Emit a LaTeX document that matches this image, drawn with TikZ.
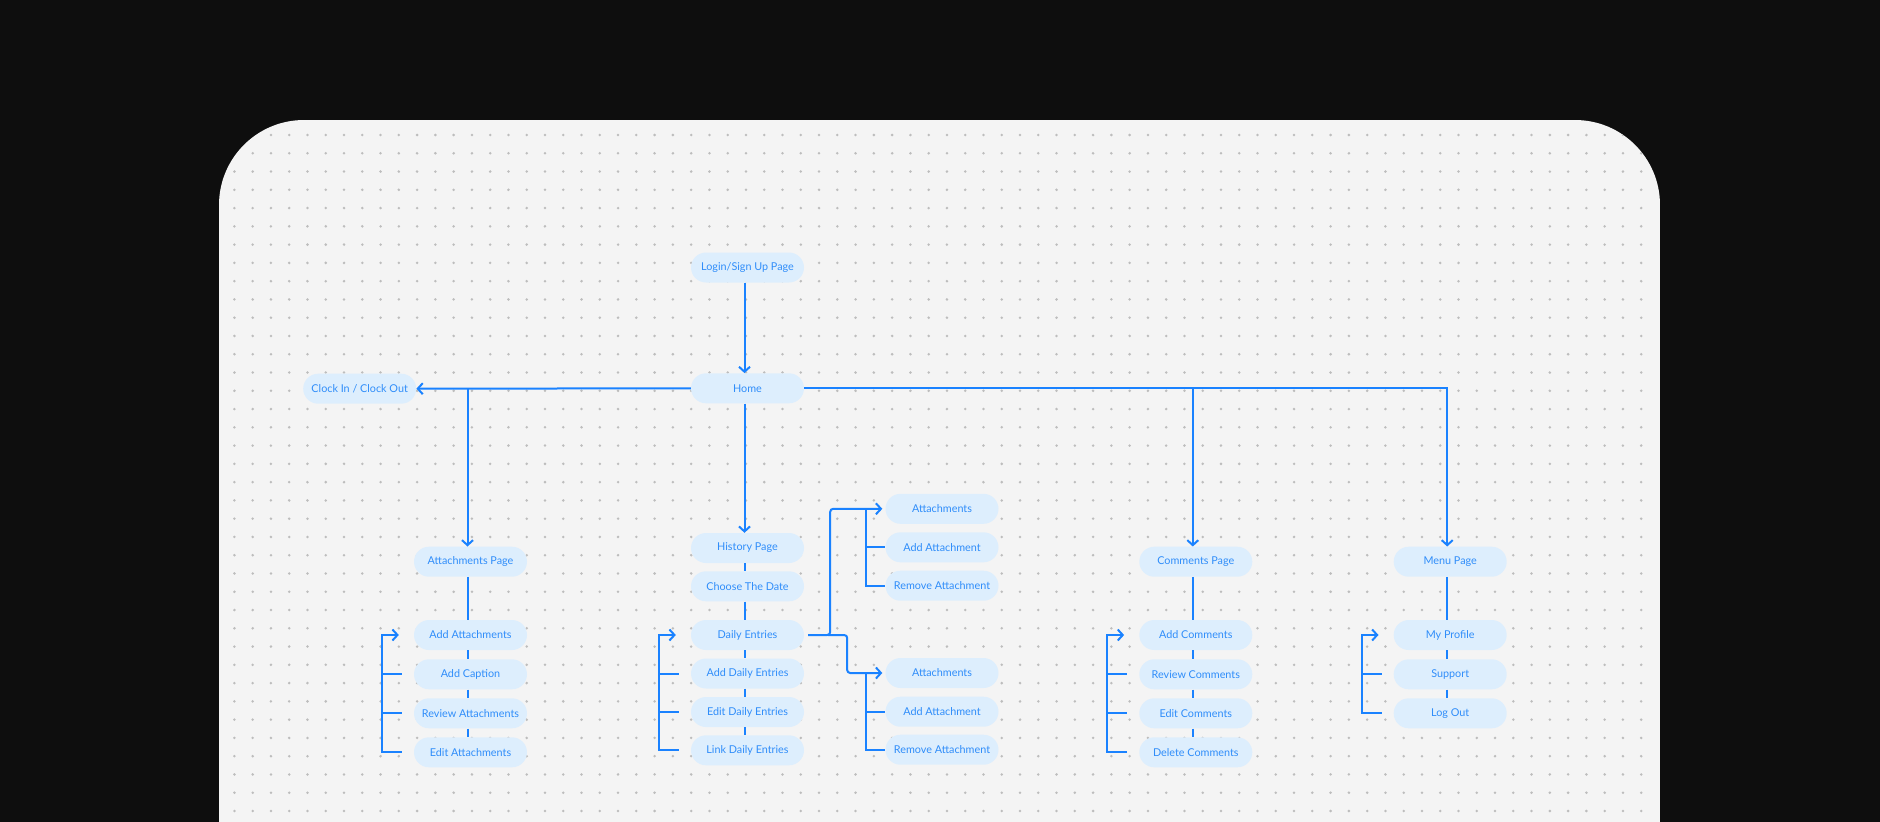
\documentclass[tikz,border=0pt]{standalone}
\usepackage{fontspec}
\setmainfont{Lato}
\usetikzlibrary{arrows.meta}
\definecolor{bgdark}{HTML}{0E0E0E}
\definecolor{cardbg}{HTML}{F4F4F4}
\definecolor{dotc}{HTML}{BDBDBD}
\definecolor{linec}{HTML}{1A82FF}
\definecolor{pillfill}{HTML}{DDEEFD}
\definecolor{pilltext}{HTML}{2F8DFA}
\begin{document}
\begin{tikzpicture}[x=1pt,y=-1pt,
  pill/.style={fill=pillfill, rounded corners=15pt, minimum width=113pt, minimum height=30pt, inner sep=0pt, text=pilltext, font=\fontsize{10.8}{12}\selectfont},
  conn/.style={draw=linec, line width=2pt},
  arr/.style={conn, -{Straight Barb[length=5pt,width=11pt,line width=2pt]}},
]
\useasboundingbox (0,0) rectangle (1880,822);
\fill[bgdark] (0,0) rectangle (1880,822);
\begin{scope}
  \clip[rounded corners=85pt] (219,120) rectangle (1660,1000);
  \fill[cardbg] (219,120) rectangle (1660,1000);
  \foreach \i in {0,...,77} {
    \foreach \j in {0,...,37} {
      \fill[dotc] (234.4+18.27*\i, 135+18.27*\j) circle (1.4pt);
    }
  }
\end{scope}

% nodes
\node[pill] (login) at (747.5,267.5) {Login/Sign Up Page};
\node[pill] (home) at (747.5,388.3) {Home};
\node[pill] (clock) at (359.7,388.7) {Clock In / Clock Out};

\node[pill] (attp) at (470.5,561.7) {Attachments Page};
\node[pill] (adda) at (470.5,635) {Add Attachments};
\node[pill] (capt) at (470.5,674.3) {Add Caption};
\node[pill] (reva) at (470.5,713.3) {Review Attachments};
\node[pill] (edita) at (470.5,752.3) {Edit Attachments};

\node[pill] (hist) at (747.5,548) {History Page};
\node[pill] (date) at (747.5,586.3) {Choose The Date};
\node[pill] (daily) at (747.5,635) {Daily Entries};
\node[pill] (addd) at (747.5,673.5) {Add Daily Entries};
\node[pill] (editd) at (747.5,712) {Edit Daily Entries};
\node[pill] (linkd) at (747.5,750.3) {Link Daily Entries};

\node[pill] (ua1) at (942,508.8) {Attachments};
\node[pill] (ua2) at (942,547.3) {Add Attachment};
\node[pill] (ua3) at (942,585.7) {Remove Attachment};
\node[pill] (la1) at (942,673) {Attachments};
\node[pill] (la2) at (942,711.7) {Add Attachment};
\node[pill] (la3) at (942,749.7) {Remove Attachment};

\node[pill] (comp) at (1195.8,561.7) {Comments Page};
\node[pill] (addc) at (1195.8,635) {Add Comments};
\node[pill] (revc) at (1195.8,674.3) {Review Comments};
\node[pill] (editc) at (1195.8,713.3) {Edit Comments};
\node[pill] (delc) at (1195.8,752.3) {Delete Comments};

\node[pill] (menu) at (1450.2,561.7) {Menu Page};
\node[pill] (prof) at (1450.2,635) {My Profile};
\node[pill] (supp) at (1450.2,674.3) {Support};
\node[pill] (logout) at (1450.2,713.3) {Log Out};

% main connectors
\draw[arr] ([xshift=-3pt]login.south) -- ([xshift=-3pt]home.north);
\draw[arr] (home.west) -- (clock.east);
\draw[arr] (home.east) -| ([xshift=-3pt]menu.north);
\draw[arr] ([xshift=-3pt]comp.north |- home.east) -- ([xshift=-3pt]comp.north);
\draw[arr] ([xshift=-3pt]attp.north |- home.west) -- ([xshift=-3pt]attp.north);
\draw[arr] ([xshift=-3pt]home.south) -- ([xshift=-3pt]hist.north);

% stacks
\foreach \a/\b in {attp/adda,adda/capt,capt/reva,reva/edita,
                   hist/date,date/daily,daily/addd,addd/editd,editd/linkd,
                   comp/addc,addc/revc,revc/editc,editc/delc,
                   menu/prof,prof/supp,supp/logout}
  \draw[conn] ([xshift=-3pt]\a.south) -- ([xshift=-3pt]\b.north);

% left brackets
\foreach \f/\l/\m in {adda/edita/{capt,reva}, daily/linkd/{addd,editd}, addc/delc/{revc,editc}, prof/logout/{supp}} {
  \draw[arr] ([xshift=-12pt]\l.west) -- ([xshift=-32pt]\l.west) -- ([xshift=-32pt]\f.west) -- ([xshift=-15pt]\f.west);
  \foreach \t in \m
    \draw[conn] ([xshift=-32pt]\t.west) -- ([xshift=-12pt]\t.west);
}

% daily entries right branches
\draw[arr, rounded corners=3pt] ([xshift=4pt]daily.east) -- ([xshift=26pt]daily.east) |- ([xshift=-3pt]ua1.west);
\draw[arr, rounded corners=3pt] ([xshift=24pt]daily.east) -- ([xshift=43pt]daily.east) |- ([xshift=-3pt]la1.west);
\draw[conn] ([xshift=-19pt]ua1.west) -- ([xshift=-19pt]ua3.west) -- (ua3.west);
\draw[conn] ([xshift=-19pt]ua2.west) -- (ua2.west);
\draw[conn] ([xshift=-19pt]la1.west) -- ([xshift=-19pt]la3.west) -- (la3.west);
\draw[conn] ([xshift=-19pt]la2.west) -- (la2.west);
\end{tikzpicture}
\end{document}
